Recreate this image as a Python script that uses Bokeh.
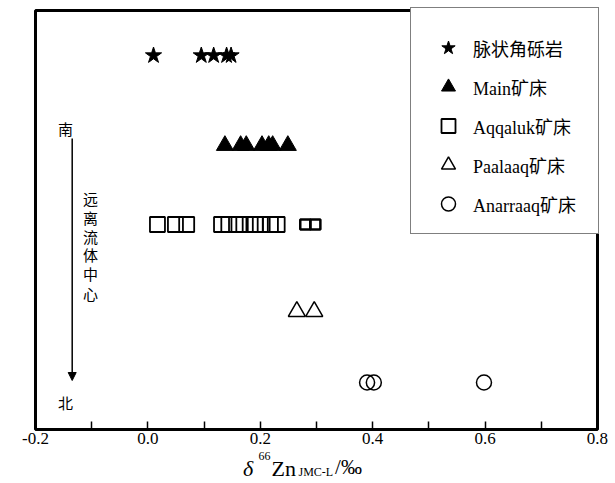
from bokeh.plotting import figure
from bokeh.models import (Range1d, FixedTicker, Legend, LegendItem, Label, Arrow, NormalHead,
                          NumeralTickFormatter, BoxAnnotation)
from bokeh.embed import file_html
from bokeh.resources import INLINE

# ---- data (delta 66Zn JMC-L, per mil) ----
breccia_x = [0.010, 0.095, 0.117, 0.140, 0.148]
main_x = [0.137, 0.165, 0.175, 0.203, 0.215, 0.222, 0.249]
aqqaluk_x = [0.017, 0.049, 0.069, 0.131, 0.144, 0.162, 0.182, 0.191, 0.200, 0.218, 0.230]
aqqaluk_small_x = [0.280, 0.298]
paalaaq_x = [0.265, 0.296]
anarraaq_x = [0.390, 0.402, 0.598]

group_labels = ["脉状角砾岩", "Main矿床", "Aqqaluk矿床", "Paalaaq矿床", "Anarraaq矿床"]
x_tick_major = [-0.2, 0.0, 0.2, 0.4, 0.6, 0.8]
x_tick_minor = [-0.1, 0.1, 0.3, 0.5, 0.7]
x_lo, x_hi = -0.2, 0.8

# layout: vertical row of each group (fraction of box height, no y axis)
rows = [0.8926, 0.6778, 0.4893, 0.2816, 0.1122]

SERIF = "Liberation Serif, Noto Sans CJK SC"
CJK = "Noto Sans CJK SC"

p = figure(width=615, height=483,
           x_range=Range1d(-0.26228, 0.83203), y_range=Range1d(-0.1289, 1.02387),
           output_backend="svg", toolbar_location=None,
           min_border_left=0, min_border_right=0, min_border_top=0, min_border_bottom=0)
p.grid.visible = False
p.yaxis.visible = False
p.outline_line_color = None
p.background_fill_color = "white"
p.border_fill_color = "white"

ax = p.xaxis[0]
ax.fixed_location = 0
ax.ticker = FixedTicker(ticks=x_tick_major, minor_ticks=x_tick_minor)
ax.formatter = NumeralTickFormatter(format="0.0")
ax.major_tick_in = 8
ax.major_tick_out = 0
ax.minor_tick_in = 8
ax.minor_tick_out = 0
ax.major_tick_line_width = 1.5
ax.minor_tick_line_width = 1.5
ax.major_tick_line_color = "black"
ax.minor_tick_line_color = "black"
ax.axis_line_color = None
ax.major_label_standoff = 4
ax.major_label_text_font = "Liberation Serif"
ax.major_label_text_font_size = "17px"
ax.major_label_text_color = "black"

def ys(xs, r):
    return [rows[r]] * len(xs)

r0 = p.scatter(breccia_x, ys(breccia_x, 0), marker="star", size=17, fill_color="black", line_color="black")
r1 = p.scatter(main_x, ys(main_x, 1), marker="triangle", size=17, fill_color="black", line_color="black")
r2 = p.scatter(aqqaluk_x, ys(aqqaluk_x, 2), marker="square", size=15, fill_color=None,
               line_color="black", line_width=1.8)
p.scatter(aqqaluk_small_x, ys(aqqaluk_small_x, 2), marker="square", size=10, fill_color=None,
          line_color="black", line_width=2.5)
r3 = p.scatter(paalaaq_x, ys(paalaaq_x, 3), marker="triangle", size=17, fill_color=None,
               line_color="black", line_width=1.5)
r4 = p.scatter(anarraaq_x, ys(anarraaq_x, 4), marker="circle", size=15, fill_color=None,
               line_color="black", line_width=1.5)

legend = Legend(items=[LegendItem(label=l, renderers=[r]) for l, r in zip(group_labels, [r0, r1, r2, r3, r4])],
                location=(410, 249), margin=0, padding=12, spacing=4,
                glyph_width=50, glyph_height=35, label_standoff=0, label_width=113,
                title=" ", title_text_font_size="9px", title_standoff=0,
                border_line_color="black", border_line_width=1.5,
                background_fill_color="white", background_fill_alpha=1,
                label_text_font=SERIF, label_text_font_size="18px", label_text_color="black")
p.add_layout(legend)

# plot box
p.add_layout(BoxAnnotation(left=x_lo, right=x_hi, bottom=0, top=1, fill_alpha=0,
                           line_color="black", line_alpha=1, line_width=3))

# left annotation: south -> north, away from fluid centre
for t, yy in [("南", 0.7184), ("北", 0.0644)]:
    p.add_layout(Label(x=-0.1466, y=yy, text=t, text_align="center", text_baseline="middle",
                       text_font=CJK, text_font_size="15px", text_color="black"))
for t, yy in zip("远离流体中心", [0.5504, 0.5051, 0.4606, 0.4177, 0.3716, 0.3253]):
    p.add_layout(Label(x=-0.1021, y=yy, text=t, text_align="center", text_baseline="middle",
                       text_font=CJK, text_font_size="15px", text_color="black"))
p.add_layout(Arrow(end=NormalHead(size=8, fill_color="black", line_color="black"),
                   x_start=-0.1347, y_start=0.6945, x_end=-0.1347, y_end=0.1169,
                   line_width=1.5, line_color="black"))

# x axis title: delta 66Zn(JMC-L) / permil
def lab(x, y, t, size, style="normal"):
    p.add_layout(Label(x=x, y=y, text=t, text_align="left", text_baseline="alphabetic",
                       text_font="Liberation Serif", text_font_size=size, text_font_style=style,
                       text_color="black"))

lab(0.1690, -0.0931, "δ", "22px", "italic")
lab(0.1968, -0.0644, "66", "12px")
lab(0.2199, -0.0931, "Zn", "22px")
lab(0.2680, -0.1026, "JMC-L", "12px")
lab(0.3330, -0.0907, "/‰", "21px")

open("out.html", "w").write(file_html(p, INLINE))
